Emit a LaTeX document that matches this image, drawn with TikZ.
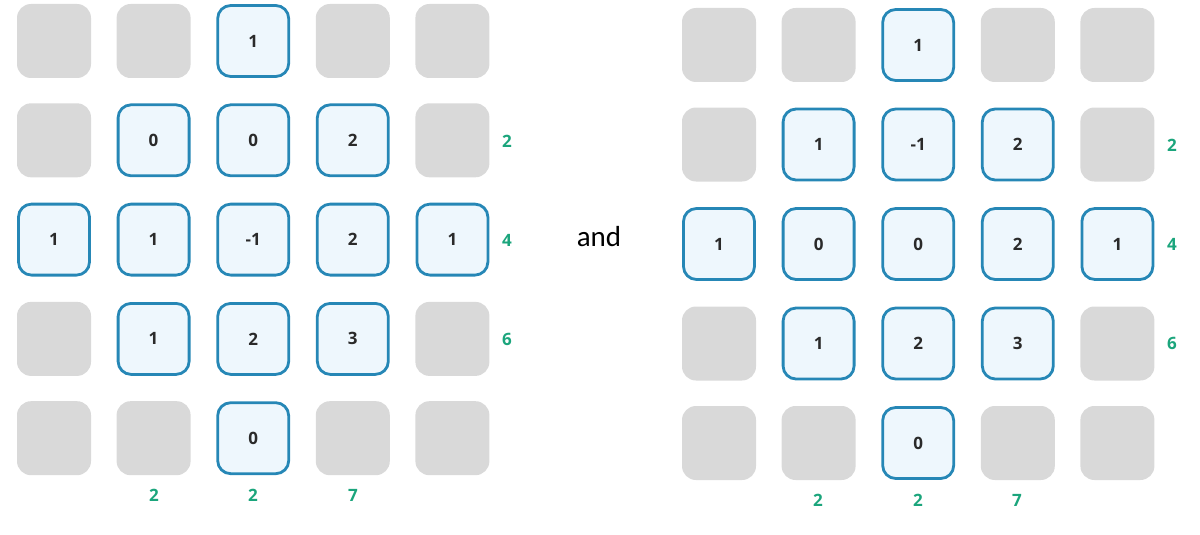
\documentclass[tikz,border=0pt]{standalone}
\usepackage{fontspec}
\setmainfont{Open Sans}
\newfontfamily\andfont{Carlito}
\definecolor{cellgray}{HTML}{D9D9D9}
\definecolor{cellblue}{HTML}{EEF7FD}
\definecolor{celledge}{HTML}{2687B6}
\definecolor{numtext}{HTML}{2A2A2A}
\definecolor{labgreen}{HTML}{1BA57C}
\begin{document}
\begin{tikzpicture}[x=1pt,y=-1pt,
  gcell/.style={minimum size=74pt, inner sep=0pt, rounded corners=14pt, fill=cellgray},
  bcell/.style={minimum size=71pt, inner sep=0pt, rounded corners=13pt, fill=cellblue, draw=celledge, line width=2.8pt, text=numtext, font=\fontsize{17}{17}\selectfont\bfseries},
  glab/.style={text=labgreen, font=\fontsize{17}{17}\selectfont\bfseries}]
\useasboundingbox (0,0) rectangle (1200,535);
% left grid
\foreach \r/\c/\v in {1/1/,1/2/,1/3/1,1/4/,1/5/,
                      2/1/,2/2/0,2/3/0,2/4/2,2/5/,
                      3/1/1,3/2/1,3/3/-1,3/4/2,3/5/1,
                      4/1/,4/2/1,4/3/2,4/4/3,4/5/,
                      5/1/,5/2/,5/3/0,5/4/,5/5/}{
  \ifx\v\empty
    \node[gcell] (L\r\c) at ({54+99.6*(\c-1)},{41+99.3*(\r-1)}) {};
  \else
    \node[bcell] (L\r\c) at ({54+99.6*(\c-1)},{41+99.3*(\r-1)}) {\v};
  \fi
}
% right grid
\foreach \r/\c/\v in {1/1/,1/2/,1/3/1,1/4/,1/5/,
                      2/1/,2/2/1,2/3/-1,2/4/2,2/5/,
                      3/1/1,3/2/0,3/3/0,3/4/2,3/5/1,
                      4/1/,4/2/1,4/3/2,4/4/3,4/5/,
                      5/1/,5/2/,5/3/0,5/4/,5/5/}{
  \ifx\v\empty
    \node[gcell] (R\r\c) at ({719+99.6*(\c-1)},{45+99.5*(\r-1)}) {};
  \else
    \node[bcell] (R\r\c) at ({719+99.6*(\c-1)},{45+99.5*(\r-1)}) {\v};
  \fi
}
% green labels left
\node[glab] (LR2) at (507,141) {2};
\node[glab] (LR3) at (507,240) {4};
\node[glab] (LR4) at (507,339) {6};
\node[glab] (LB2) at (154,495) {2};
\node[glab] (LB3) at (253,495) {2};
\node[glab] (LB4) at (353,495) {7};
% green labels right
\node[glab] (RR2) at (1172,145) {2};
\node[glab] (RR3) at (1172,244) {4};
\node[glab] (RR4) at (1172,343) {6};
\node[glab] (RB2) at (818,500) {2};
\node[glab] (RB3) at (918,500) {2};
\node[glab] (RB4) at (1017,500) {7};
% and
\node[font=\andfont\fontsize{29}{29}\selectfont] (and) at (599,237) {and};
\end{tikzpicture}
\end{document}
